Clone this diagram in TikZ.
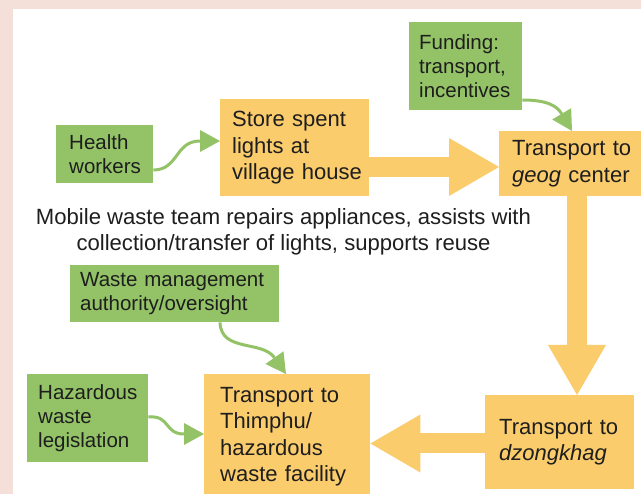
\documentclass[tikz,border=0pt]{standalone}
\usepackage{fontspec}
\setmainfont{Liberation Sans}
\usetikzlibrary{arrows.meta,calc}
\definecolor{pinkbg}{HTML}{F4E0D9}
\definecolor{boxgreen}{HTML}{93C366}
\definecolor{boxorange}{HTML}{FBCC6C}
\definecolor{txtcol}{HTML}{1E1E1E}
\begin{document}
\begin{tikzpicture}[x=1pt,y=-1pt,
  gbox/.style={fill=boxgreen, draw=none, inner ysep=0pt, align=left, anchor=north west,
    text=txtcol, font=\fontsize{20.5}{24.3}\selectfont},
  obox/.style={fill=boxorange, draw=none, inner ysep=0pt, align=left, anchor=north west,
    text=txtcol, font=\fontsize{22}{26.5}\selectfont},
  midtext/.style={align=center, text=txtcol, font=\fontsize{22.1}{26}\selectfont},
  thinarrow/.style={draw=boxgreen, line width=3pt,
    -{Triangle[length=20pt,width=22pt,line width=0pt]}},
  bigarrow/.style={draw=boxorange, line width=20pt,
    -{Triangle[length=50pt,width=58pt,line width=0pt]}}
]
\useasboundingbox (0,0) rectangle (641,494);
\clip (0,0) rectangle (641,494);
\fill[pinkbg] (0,0) rectangle (641,494);
\fill[white] (13,9) rectangle (641,494);

% boxes
\node[gbox, inner xsep=13pt, text width=71pt, minimum height=58pt] (hw) at (56,125) {Health\\workers};
\node[obox, inner xsep=12pt, text width=125pt, minimum height=97pt] (store) at (220,99) {Store~spent\\lights~at\\village~house};
\node[obox, inner xsep=13pt, text width=118pt, minimum height=65pt] (geog) at (499,131) {Transport~to\\\textit{geog}~center};
\node[gbox, inner xsep=10pt, text width=93pt, minimum height=88pt] (fund) at (409,22) {Funding:\\transport,\\incentives};
\node[gbox, inner xsep=10pt, text width=189pt, minimum height=57pt] (wm) at (70,265) {Waste~management\\authority/oversight};
\node[gbox, inner xsep=11pt, text width=99pt, minimum height=88pt] (haz) at (27,374) {Hazardous\\waste\\legislation};
\node[obox, inner xsep=16pt, text width=134pt, minimum height=125pt] (thim) at (204,374) {Transport~to\\Thimphu/\\hazardous\\waste~facility};
\node[obox, inner xsep=14pt, text width=121pt, minimum height=94pt] (dz) at (485,395) {Transport~to\\\textit{dzongkhag}};

\node[midtext] (mobile) at (283.5,232) {Mobile waste team repairs appliances, assists with\\collection/transfer of lights, supports reuse};

% big arrows
\coordinate (ya) at (0,167);
\coordinate (xb) at (577,0);
\coordinate (yc) at (0,443.5);
\draw[bigarrow] (store.east |- ya) -- (geog.west |- ya);
\draw[bigarrow] (geog.south -| xb) -- (dz.north -| xb);
\draw[bigarrow] (dz.west |- yc) -- (thim.east |- yc);

% thin curved arrows
\draw[thinarrow] ($(hw.north east)+(0,45)$) .. controls +(25,0) and +(-45,0) .. ($(store.north west)+(0,42)$);
\draw[thinarrow] ($(fund.north east)+(0,78)$) .. controls +(25,0) and +(-15,-25) .. ($(geog.north west)+(73,0)$);
\draw[thinarrow] ($(wm.south west)+(150,0)$) .. controls +(1,30) and +(-24,-34) .. ($(thim.north west)+(82,0)$);
\draw[thinarrow] ($(haz.north east)+(0,43)$) .. controls +(22,-2) and +(-40,0) .. ($(thim.north west)+(0,60)$);
\end{tikzpicture}
\end{document}
